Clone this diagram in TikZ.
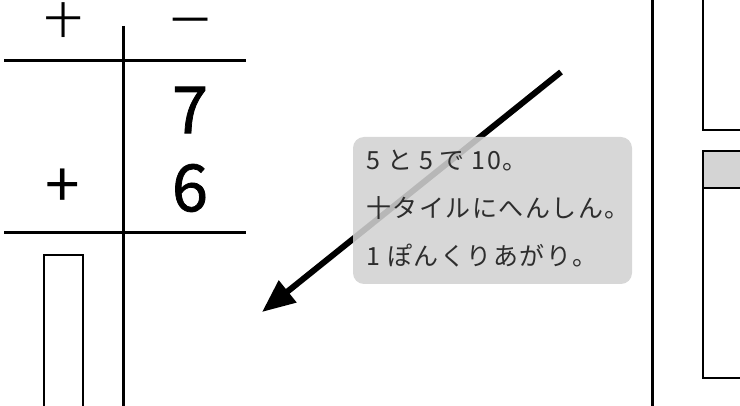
\documentclass[tikz,border=0pt]{standalone}
\usepackage{fontspec}
\newfontfamily\jp{Noto Sans CJK JP}
\newfontfamily\jpb[FakeBold=1.2]{Noto Sans CJK JP}
\newfontfamily\jpsp[LetterSpace=6]{Noto Sans CJK JP}
\usetikzlibrary{arrows.meta}
\definecolor{notefill}{RGB}{209,209,209}
\definecolor{notetext}{RGB}{45,45,45}
\definecolor{bandfill}{RGB}{212,212,212}
\newcommand{\gap}{\hspace{7pt}}
\tikzset{
  rule/.style={line width=3pt},
  tile/.style={line width=2pt},
  digit/.style={font=\jpb\fontsize{65}{65}\selectfont, inner sep=0pt},
  head/.style={font=\jp\fontsize{38}{38}\selectfont, inner sep=0pt, text height=26pt, text depth=0pt},
  notebox/.style={fill=notefill, fill opacity=0.88, rounded corners=11pt, minimum width=279pt, minimum height=147pt, inner sep=0pt},
  notetxt/.style={font=\jpsp\fontsize{25}{48}\selectfont, text=notetext, align=left, inner sep=0pt},
  bigarrow/.style={line width=6pt, -{Triangle[length=33pt,width=27pt]}}
}
\begin{document}
\begin{tikzpicture}[x=1pt,y=-1pt]
\useasboundingbox (0,0) rectangle (740,406);
\clip (0,0) rectangle (740,406);
% place-value table
\draw[rule] (4,61) -- (246,61);
\draw[rule] (4,233) -- (246,233);
\draw[rule] (123,26) -- (123,410);
\node[head] (ten) at (63,22) {十};
\node[head] (one) at (190,22) {一};
\node[digit] (seven) at (190,110) {7};
\node[digit] (six) at (190,188) {6};
\node[font=\jp\fontsize{62}{62}\selectfont, inner sep=0pt] (plus) at (63,188) {+};
\draw[tile] (44,255) rectangle (83,412);
% arrow
\coordinate (astart) at (561,72);
\coordinate (aend) at (262,312);
\draw[bigarrow] (astart) -- (aend);
% note
\node[notebox] (note) at (492.5,210.5) {};
\node[notetxt, anchor=north west] (notet) at (366,150) {5\gap と\gap 5\gap で\gap 10。\\十タイルにへんしん。\\1\gap ぽんくりあがり。};
% right part
\draw[rule] (652,-2) -- (652,410);
\draw[tile] (703,-5) rectangle (750,130);
\fill[bandfill] (703,151) rectangle (750,188);
\draw[tile] (703,151) rectangle (750,378);
\draw[tile] (703,188) -- (750,188);
\end{tikzpicture}
\end{document}
